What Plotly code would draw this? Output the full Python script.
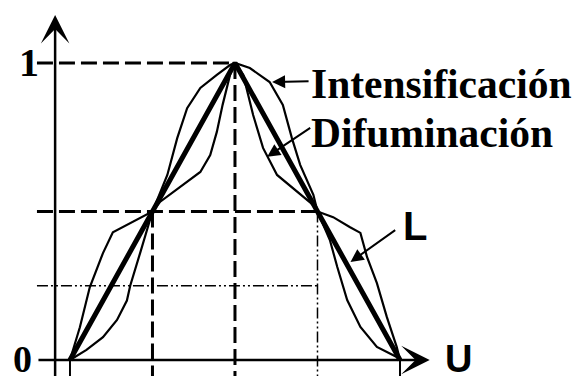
import plotly.graph_objects as go

# ---- data ----
u_L = [0, 1, 2, 3, 4]
mu_L = [0, 0.5, 1, 0.5, 0]

u_int = [0, 0.2, 0.4, 0.57, 0.69, 0.73, 0.85, 0.97, 1,
         1.18, 1.30, 1.42, 1.58, 1.78, 1.94, 2,
         2.18, 2.42, 2.58, 2.69, 2.79, 2.95, 3,
         3.15, 3.24, 3.36, 3.52, 3.72, 3.96, 4]
mu_int = [0, 0.034, 0.077, 0.135, 0.2, 0.25, 0.36, 0.47, 0.5,
          0.623, 0.747, 0.848, 0.916, 0.96, 0.993, 1,
          0.983, 0.936, 0.859, 0.747, 0.657, 0.556, 0.5,
          0.404, 0.313, 0.202, 0.111, 0.044, 0.01, 0]

u_dif = [0, 0.12, 0.24, 0.33, 0.4, 0.52, 0.69, 0.85, 1,
         1.09, 1.37, 1.58, 1.70, 1.78, 1.85, 1.94, 2,
         2.10, 2.22, 2.34, 2.51, 2.75, 2.99, 3,
         3.19, 3.39, 3.52, 3.6, 3.72, 3.84, 3.96, 4]
mu_dif = [0, 0.11, 0.245, 0.31, 0.36, 0.43, 0.455, 0.478, 0.5,
          0.532, 0.589, 0.633, 0.69, 0.768, 0.859, 0.96, 1,
          0.96, 0.825, 0.714, 0.623, 0.566, 0.512, 0.5,
          0.481, 0.448, 0.428, 0.347, 0.259, 0.145, 0.044, 0]

y_ticks = [0, 1]
y_tick_labels = ["0", "1"]
label_int = "Intensificación"
label_dif = "Difuminación"
label_L = "L"
label_U = "U"

# ---- figure ----
fig = go.Figure()
fig.add_trace(go.Scatter(x=u_int, y=mu_int, mode="lines",
                         line=dict(color="black", width=2.2), hoverinfo="skip"))
fig.add_trace(go.Scatter(x=u_dif, y=mu_dif, mode="lines",
                         line=dict(color="black", width=2.2), hoverinfo="skip"))
fig.add_trace(go.Scatter(x=u_L, y=mu_L, mode="lines",
                         line=dict(color="black", width=5), hoverinfo="skip"))

x_left = -0.40
y_axis_x = -0.18
y_bottom = -0.06
dash_main = "16px,6px"
dash_dd = "11px,3px,2px,3px,2px,3px"

shapes = [
    # horizontal guides
    dict(type="line", x0=x_left, x1=2, y0=1, y1=1, line=dict(color="black", width=3, dash=dash_main)),
    dict(type="line", x0=x_left, x1=3, y0=0.5, y1=0.5, line=dict(color="black", width=3, dash=dash_main)),
    dict(type="line", x0=x_left, x1=3, y0=0.25, y1=0.25, line=dict(color="black", width=1.5, dash=dash_dd)),
    # vertical guides
    dict(type="line", x0=1, x1=1, y0=0.5, y1=y_bottom, line=dict(color="black", width=3, dash=dash_main)),
    dict(type="line", x0=2, x1=2, y0=1, y1=y_bottom, line=dict(color="black", width=3, dash=dash_main)),
    dict(type="line", x0=3, x1=3, y0=0.5, y1=y_bottom, line=dict(color="black", width=1.5, dash=dash_dd)),
    # small ticks below axis
    dict(type="line", x0=0, x1=0, y0=0, y1=y_bottom, line=dict(color="black", width=2)),
    dict(type="line", x0=4, x1=4, y0=0, y1=y_bottom, line=dict(color="black", width=2)),
]

annotations = [
    # axes with arrowheads
    dict(x=4.36, y=0, ax=x_left, ay=0, xref="x", yref="y", axref="x", ayref="y",
         text="", showarrow=True, arrowhead=3, arrowsize=1.9, arrowwidth=2.5, arrowcolor="black", standoff=0),
    dict(x=y_axis_x, y=1.162, ax=y_axis_x, ay=y_bottom, xref="x", yref="y", axref="x", ayref="y",
         text="", showarrow=True, arrowhead=3, arrowsize=1.9, arrowwidth=2.5, arrowcolor="black", standoff=0),
    # pointer arrows
    dict(x=2.45, y=0.936, ax=2.91, ay=0.939, xref="x", yref="y", axref="x", ayref="y",
         text="", showarrow=True, arrowhead=2, arrowsize=1.3, arrowwidth=2, arrowcolor="black", standoff=0),
    dict(x=2.39, y=0.684, ax=2.93, ay=0.785, xref="x", yref="y", axref="x", ayref="y",
         text="", showarrow=True, arrowhead=2, arrowsize=1.3, arrowwidth=2, arrowcolor="black", standoff=0),
    dict(x=3.40, y=0.33, ax=3.96, ay=0.441, xref="x", yref="y", axref="x", ayref="y",
         text="", showarrow=True, arrowhead=2, arrowsize=1.3, arrowwidth=2, arrowcolor="black", standoff=0),
    # labels
    dict(x=2.895, y=0.93, xref="x", yref="y", text=label_int, showarrow=False, xanchor="left", yanchor="middle",
         font=dict(family="Liberation Serif", size=41.5, color="black", weight="bold")),
    dict(x=2.895, y=0.765, xref="x", yref="y", text=label_dif, showarrow=False, xanchor="left", yanchor="middle",
         font=dict(family="Liberation Serif", size=41.5, color="black", weight="bold")),
    dict(x=4.01, y=0.45, xref="x", yref="y", text=label_L, showarrow=False, xanchor="left", yanchor="middle",
         font=dict(family="Liberation Sans", size=40, color="black", weight="bold")),
    dict(x=4.52, y=0.005, xref="x", yref="y", text=label_U, showarrow=False, xanchor="left", yanchor="middle",
         font=dict(family="Liberation Sans", size=38, color="black", weight="bold")),
    dict(x=-0.50, y=y_ticks[1], xref="x", yref="y", text=y_tick_labels[1], showarrow=False, xanchor="center", yanchor="middle",
         font=dict(family="Liberation Serif", size=40, color="black", weight="bold")),
    dict(x=-0.58, y=y_ticks[0] + 0.005, xref="x", yref="y", text=y_tick_labels[0], showarrow=False, xanchor="center", yanchor="middle",
         font=dict(family="Liberation Serif", size=38, color="black", weight="bold")),
]

fig.update_layout(
    width=575, height=376,
    margin=dict(l=0, r=0, t=0, b=0),
    paper_bgcolor="white", plot_bgcolor="white",
    showlegend=False,
    xaxis=dict(range=[-0.848, 6.121], visible=False, fixedrange=True),
    yaxis=dict(range=[-0.0539, 1.2121], visible=False, fixedrange=True),
    shapes=shapes,
    annotations=annotations,
)

fig.write_html("out.html", config={"displayModeBar": False},
               post_script="document.body.style.margin='0';document.body.style.overflow='hidden';")
